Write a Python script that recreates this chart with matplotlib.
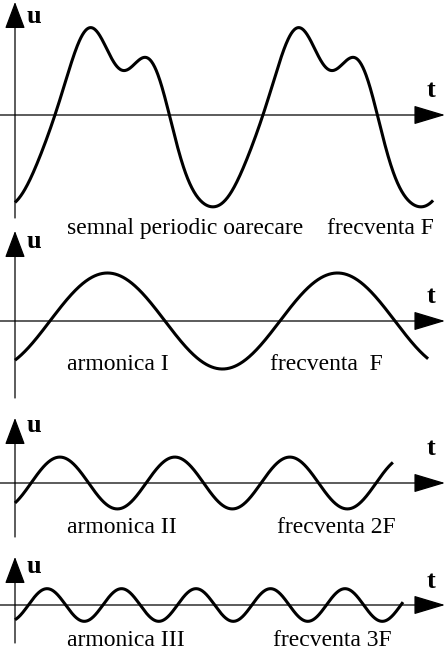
import numpy as np
import matplotlib
matplotlib.use('Agg')
import matplotlib.pyplot as plt

plt.rc('font', family='Liberation Serif', size=17)

# data
# top signal as a sum of harmonics (amplitude unit = amplitude of harmonica I)
top_dc = 0.04
top_n = np.array([1, 2, 3, 4])
top_sin = np.array([1.74, 0.20, 0.10, -0.09])
top_cos = np.array([-0.13, 0.33, -0.26, 0.02])
top_shift = 0.192      # first rising zero crossing, in periods
top_end = 2.01         # periods drawn

# harmonics I, II, III
harm_n = [1, 2, 3]
harm_amp = [1.0, 0.54, 0.34]
harm_shift = [0.152, 0.070, 0.060]
harm_end = [1.796, 1.643, 1.736]

captions = [('semnal periodic oarecare', 'frecventa F'),
            ('armonica I', 'frecventa  F'),
            ('armonica II', 'frecventa 2F'),
            ('armonica III', 'frecventa 3F')]

# layout (pixels of a 446x650 canvas)
W, H = 446, 650
x0 = 15                       # vertical axis position
unit = 48                     # px per amplitude unit
axis_y = [115, 321, 483, 605]
period_px = [208, 230, 230, 223.5]
yax_top = [2, 231, 418, 557]
yax_bot = [218, 398, 537, 643]
u_base = [23, 248, 432, 573]
t_base = [97, 303, 455, 588]
cap_base = [234, 370, 533, 646]
cap_x = [(67, 327), (67, 270), (67, 277), (67, 273)]

fig = plt.figure(figsize=(W / 100, H / 100), dpi=100)

for i in range(4):
    ax = fig.add_axes([0, 0, 1, 1])
    ax.set_xlim(-x0 / period_px[i], (W - x0) / period_px[i])
    ax.set_ylim(-(H - axis_y[i]) / unit, axis_y[i] / unit)
    ax.axis('off')
    ax.patch.set_alpha(0)

    if i == 0:
        t = np.linspace(0, top_end, 800)
        th = 2 * np.pi * (t - top_shift)
        u = top_dc + sum(s * np.sin(n * th) + c * np.cos(n * th)
                         for n, s, c in zip(top_n, top_sin, top_cos))
    else:
        k = i - 1
        t = np.linspace(0, harm_end[k], 800)
        u = harm_amp[k] * np.sin(2 * np.pi * harm_n[k] * (t - harm_shift[k]))
    ax.plot(t, u, color='black', lw=2.2, solid_capstyle='butt')

    # vertical axis with arrow
    ax.annotate('', xy=(0, (axis_y[i] - yax_top[i]) / unit),
                xytext=(0, (axis_y[i] - yax_bot[i]) / unit),
                arrowprops=dict(arrowstyle='-|>,head_length=0.85,head_width=0.32',
                                mutation_scale=20, lw=0.9, color='black',
                                shrinkA=0, shrinkB=0))
    # time axis with arrow
    ax.annotate('', xy=((445 - x0) / period_px[i], 0),
                xytext=((0 - x0) / period_px[i], 0),
                arrowprops=dict(arrowstyle='-|>,head_length=1.0,head_width=0.30',
                                mutation_scale=20, lw=0.9, color='black',
                                shrinkA=0, shrinkB=0))

    fig.text(27 / W, 1 - u_base[i] / H, 'u', fontsize=19, fontweight='bold',
             ha='left', va='baseline')
    fig.text(427 / W, 1 - t_base[i] / H, 't', fontsize=19, fontweight='bold',
             ha='left', va='baseline')
    left, right = captions[i]
    fig.text(cap_x[i][0] / W, 1 - cap_base[i] / H, left,
             ha='left', va='baseline')
    fig.text(cap_x[i][1] / W, 1 - cap_base[i] / H, right,
             ha='left', va='baseline')

fig.savefig('out.png', dpi=100)
